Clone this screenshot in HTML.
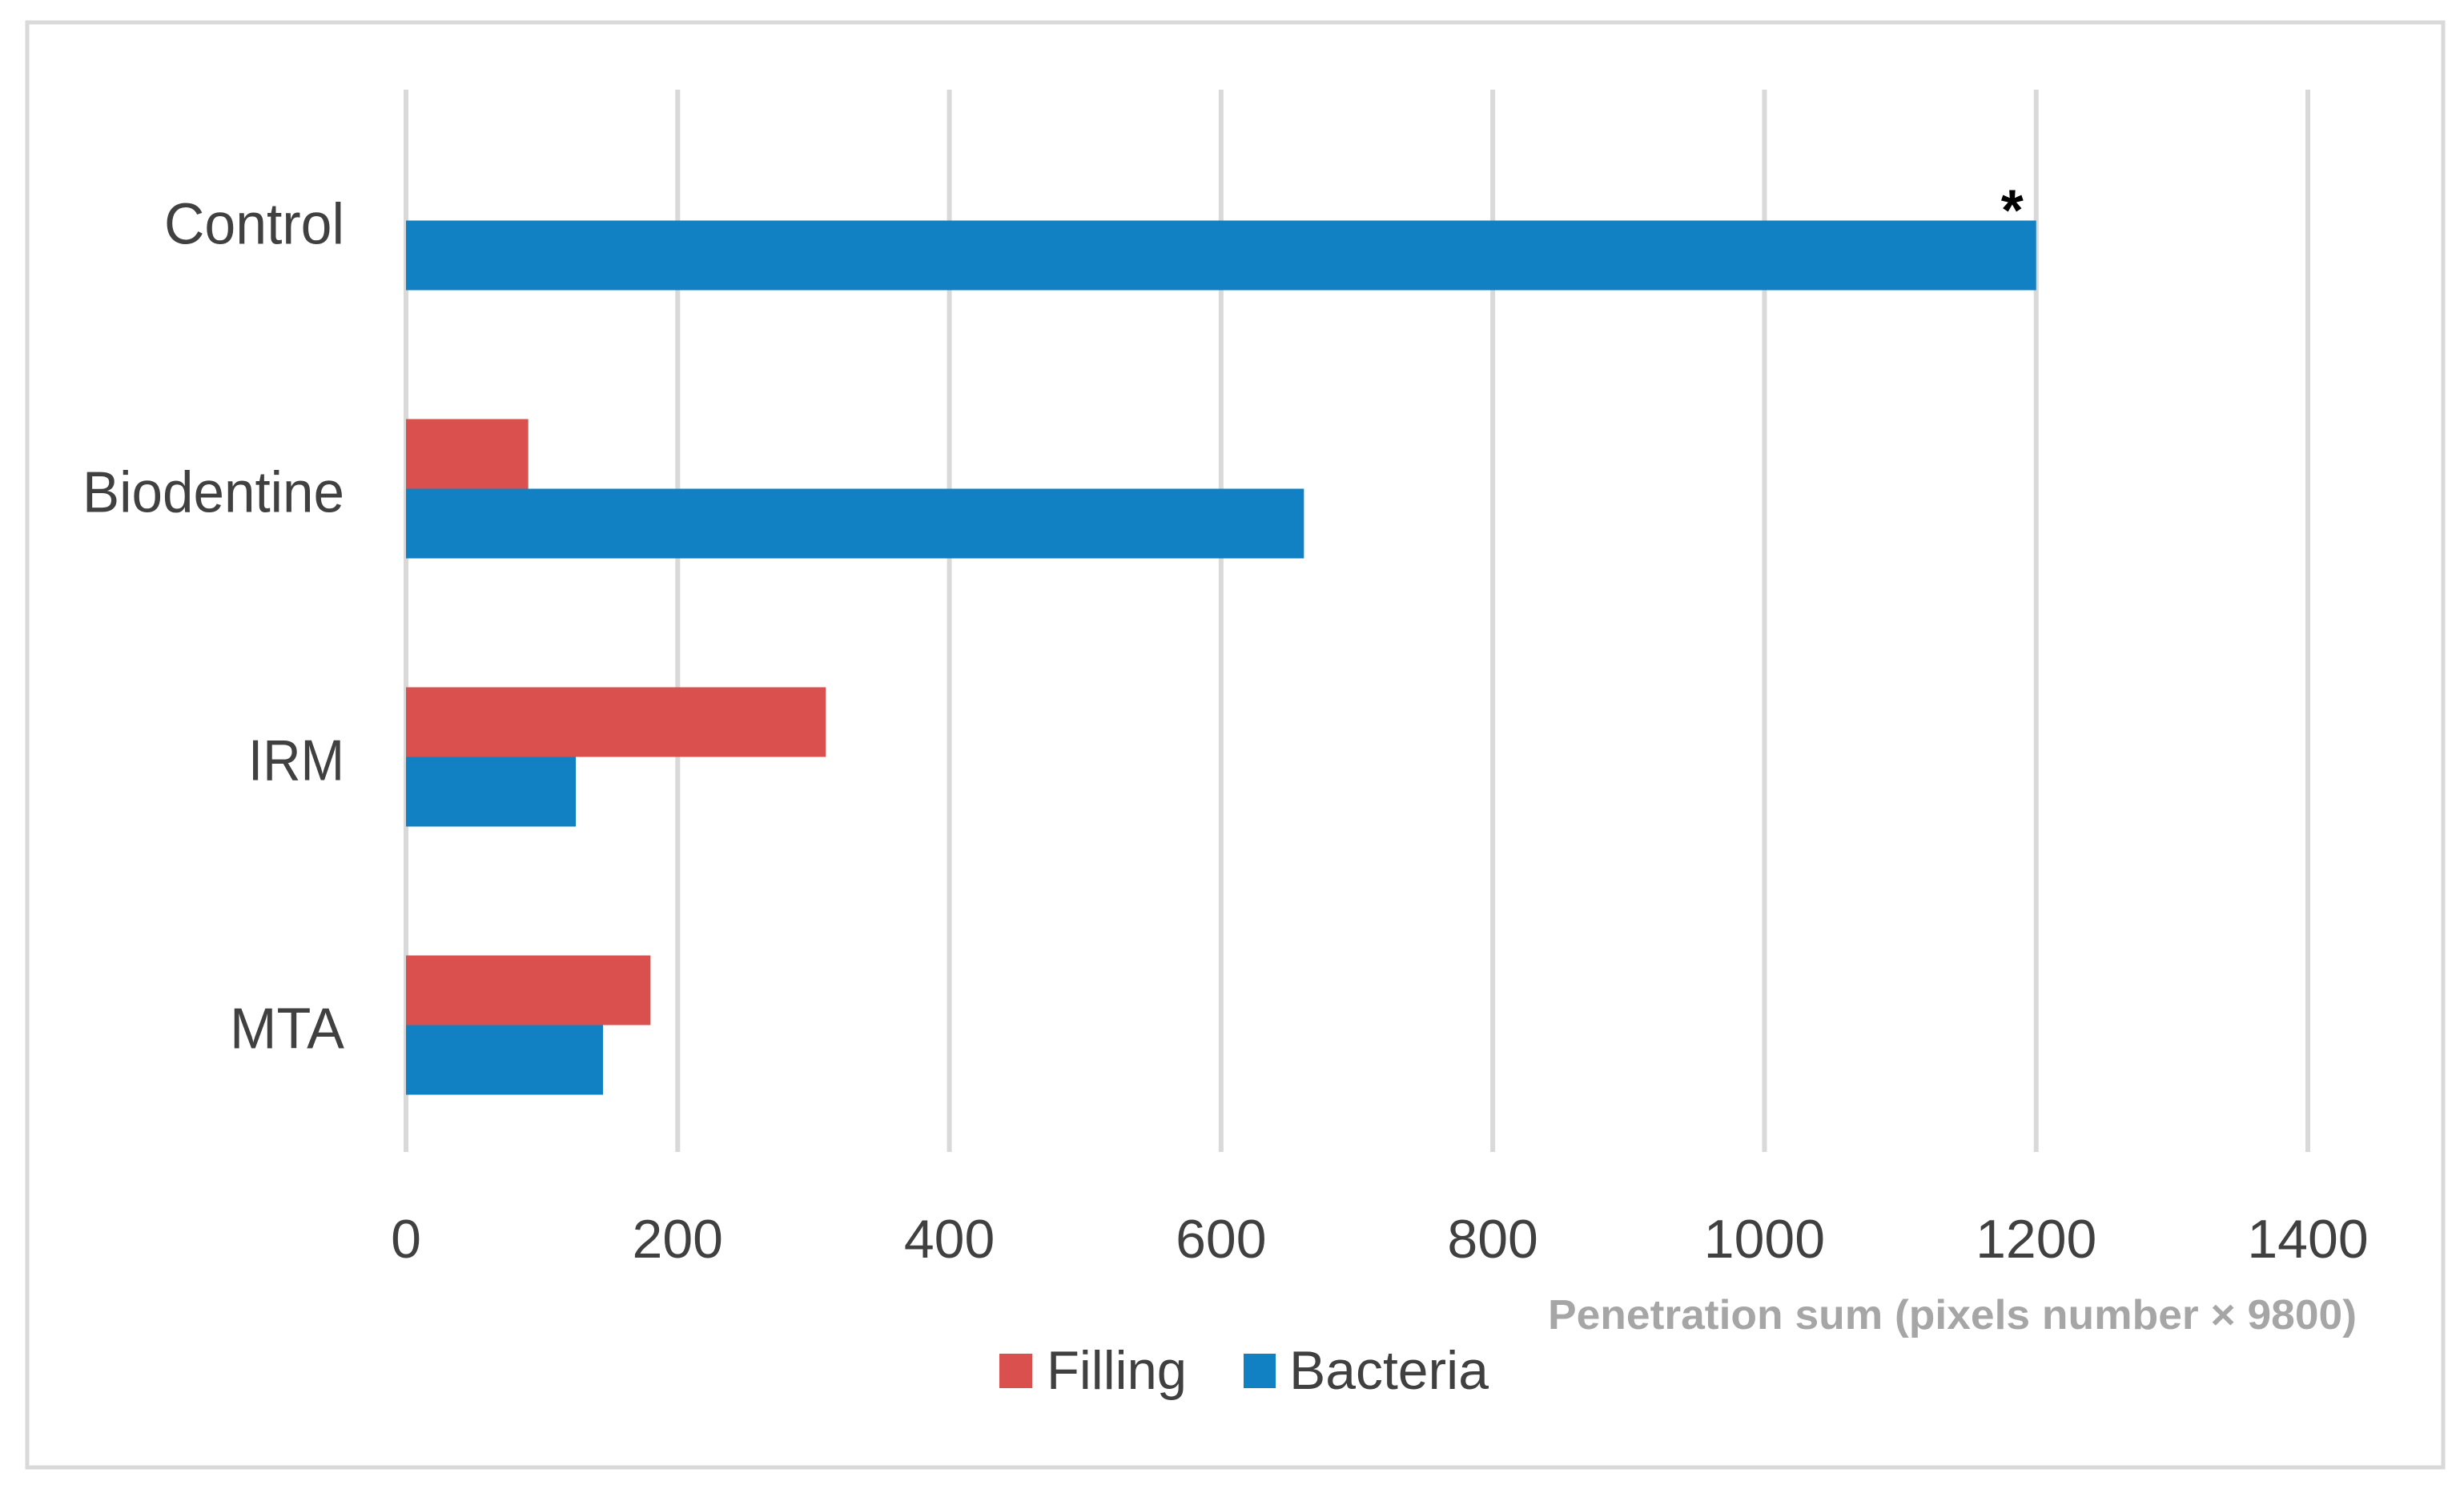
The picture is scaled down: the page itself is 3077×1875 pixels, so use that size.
<!DOCTYPE html>
<html><head><meta charset="utf-8"><style>
html,body{margin:0;padding:0;background:#fff;}
svg{display:block;}
text{font-family:"Liberation Sans",sans-serif;}
</style></head><body>
<svg id="chart" width="3077" height="1875" viewBox="0 0 3077 1875">
<rect x="34" y="28" width="3017" height="1805" fill="#fff" stroke="#d9d9d9" stroke-width="5"/>
<g id="grid"></g><g id="bars"></g><g id="labels"></g>
<text x="2943" y="1660" text-anchor="end" font-size="52" font-weight="bold" fill="#a6a6a6" textLength="1010" lengthAdjust="spacingAndGlyphs">Penetration sum (pixels number × 9800)</text>
<rect x="1248" y="1691" width="41" height="43" fill="#d9504f"/>
<text x="1307" y="1735" font-size="68" fill="#404040" textLength="175" lengthAdjust="spacingAndGlyphs">Filling</text>
<rect x="1553" y="1691" width="40" height="43" fill="#1181c3"/>
<text x="1610" y="1735" font-size="68" fill="#404040" textLength="249" lengthAdjust="spacingAndGlyphs">Bacteria</text>
</svg>
<script>
const categories = ["Control", "Biodentine", "IRM", "MTA"];
const filling = [0, 90, 309, 180];
const bacteria = [1200, 661, 125, 145];
const ticks = [0, 200, 400, 600, 800, 1000, 1200, 1400];
const labelWidths = [225, 327, 120, 143];

const NS = "http://www.w3.org/2000/svg";
const x0 = 507, x1 = 2882, xMax = 1400;
const xs = v => x0 + (v / xMax) * (x1 - x0);
const bandTop = 108, band = 335;
const yc = i => bandTop + band * i + band / 2;
const barH = 87;

function mk(tag, attrs, parent) {
  const e = document.createElementNS(NS, tag);
  for (const k in attrs) e.setAttribute(k, attrs[k]);
  parent.appendChild(e);
  return e;
}
const grid = document.getElementById('grid');
const bars = document.getElementById('bars');
const labels = document.getElementById('labels');

ticks.forEach(t => {
  const l = mk('line', {x1: xs(t), x2: xs(t), y1: 112, y2: 1439, stroke: '#d9d9d9', 'stroke-width': 6}, grid);
  
  
  const tx = mk('text', {x: xs(t), y: 1571, 'text-anchor': 'middle', 'font-size': 68, fill: '#404040'}, labels);
  tx.textContent = String(t);
  
  
});

categories.forEach((c, i) => {
  const cy = yc(i);
  if (filling[i] > 0) {
    const r = mk('rect', {x: xs(0), y: cy - barH, width: xs(filling[i]) - xs(0), height: barH, fill: '#d9504f'}, bars);
    
    
  }
  const b = mk('rect', {x: xs(0), y: cy, width: xs(bacteria[i]) - xs(0), height: barH, fill: '#1181c3'}, bars);
  
  
  const lab = mk('text', {x: 430, y: cy + 29, 'text-anchor': 'end', 'font-size': 72, fill: '#404040', textLength: labelWidths[i], lengthAdjust: 'spacingAndGlyphs'}, labels);
  lab.textContent = c;
  
  
});

const star = mk('text', {x: xs(bacteria[0]) - 30, y: yc(0) + 12, 'text-anchor': 'middle', 'font-size': 72, 'font-weight': 'bold', fill: '#000'}, labels);
star.textContent = '*';


</script>
</body></html>
